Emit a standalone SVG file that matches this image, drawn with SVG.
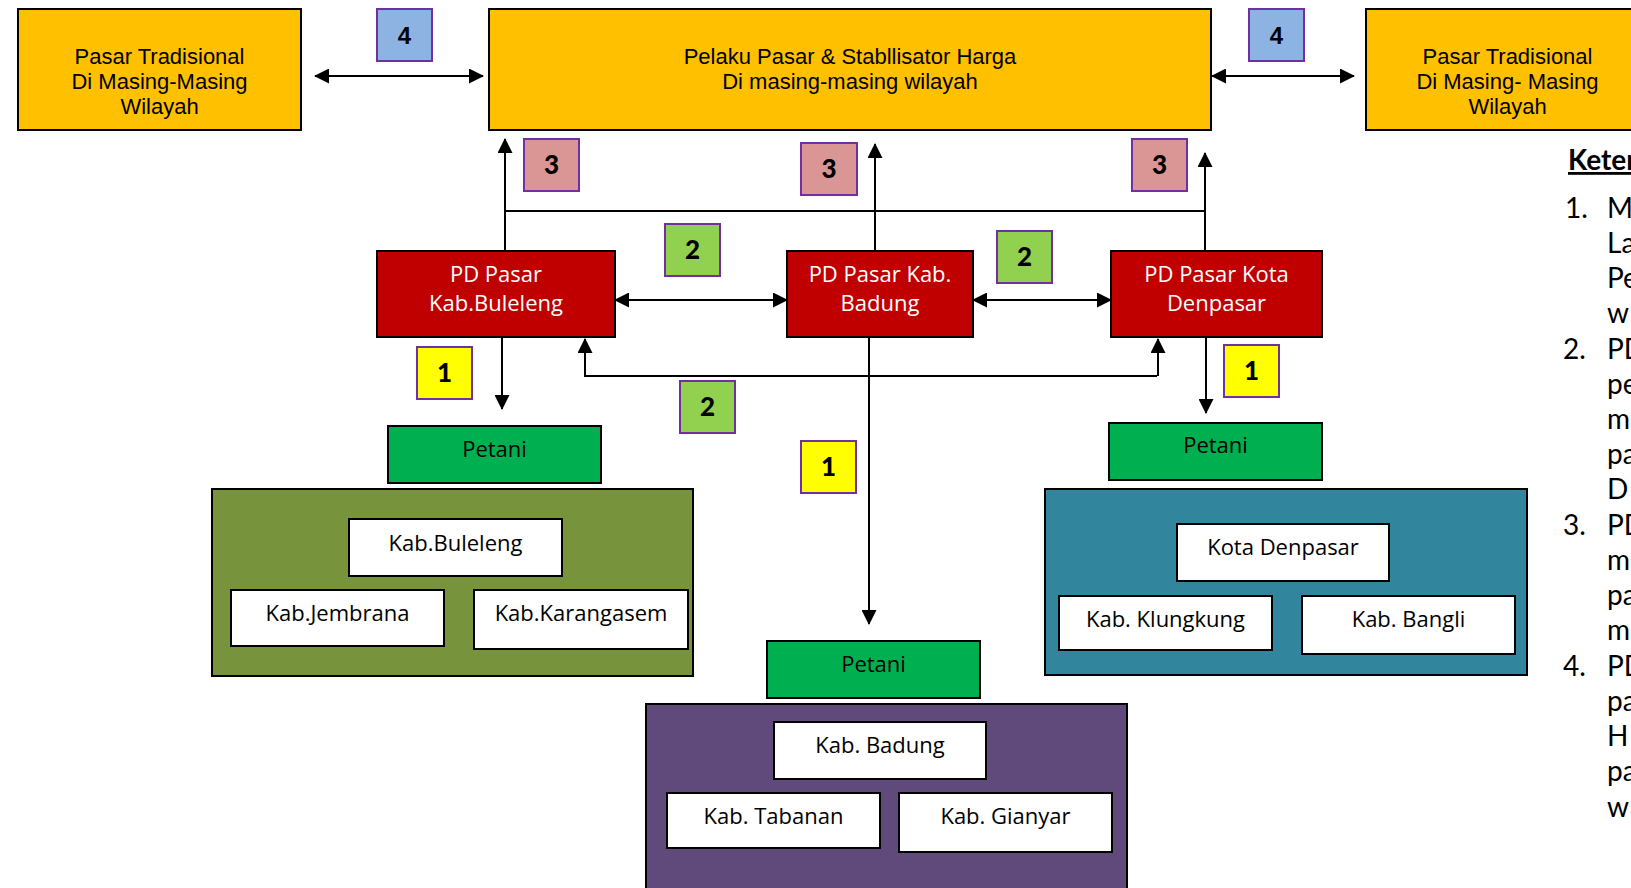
<svg xmlns="http://www.w3.org/2000/svg" width="1631" height="888" viewBox="0 0 1631 888">
  <style>
    .box { stroke: #000; stroke-width: 2; }
    .market { fill: #FFC000; }
    .pd { fill: #C00000; }
    .farmer { fill: #00B050; }
    .white { fill: #FFFFFF; }
    .tag { stroke: #7030A0; stroke-width: 2; }
    .t1 { fill: #FFFF00; }
    .t2 { fill: #92D050; }
    .t3 { fill: #D99694; }
    .t4 { fill: #8DB3E2; }
    .top { font-family: "Liberation Sans", Arial, sans-serif; font-size: 22px; fill: #000; text-anchor: middle; }
    .lbl { font-family: "Open Sans", "Noto Sans", sans-serif; font-size: 22px; fill: #000; text-anchor: middle; }
    .lblw { font-family: "Open Sans", "Noto Sans", sans-serif; font-size: 22px; fill: #FFFFFF; text-anchor: middle; }
    .num { font-family: Lato, "Open Sans", sans-serif; font-size: 26px; font-weight: 900; fill: #000; text-anchor: middle; }
    .num4 { font-family: "Liberation Sans", Arial, sans-serif; font-size: 24px; font-weight: bold; fill: #000; text-anchor: middle; }
    .leg { font-family: Lato, "Open Sans", sans-serif; font-size: 28px; fill: #000; }
    .wire { fill: none; stroke: #000; stroke-width: 2; }
  </style>
  <defs>
    <marker id="arrow" markerUnits="userSpaceOnUse" markerWidth="15" markerHeight="15" refX="14" refY="7.5" orient="auto-start-reverse" viewBox="0 0 15 15">
      <path d="M0,0 L15,7.5 L0,15 Z" fill="#000"/>
    </marker>
  </defs>

  <rect width="1631" height="888" fill="#FFFFFF"/>

  <!-- connectors -->
  <g id="connectors">
    <path class="wire" d="M315,76 H483" marker-start="url(#arrow)" marker-end="url(#arrow)"/>
    <path class="wire" d="M1212,76 H1354" marker-start="url(#arrow)" marker-end="url(#arrow)"/>
    <path class="wire" d="M505,211 H1206"/>
    <path class="wire" d="M505,251 V139" marker-end="url(#arrow)"/>
    <path class="wire" d="M875,251 V144" marker-end="url(#arrow)"/>
    <path class="wire" d="M1205,251 V153" marker-end="url(#arrow)"/>
    <path class="wire" d="M615,300 H787" marker-start="url(#arrow)" marker-end="url(#arrow)"/>
    <path class="wire" d="M973,300 H1111" marker-start="url(#arrow)" marker-end="url(#arrow)"/>
    <path class="wire" d="M502,337 V409" marker-end="url(#arrow)"/>
    <path class="wire" d="M1206,337 V413" marker-end="url(#arrow)"/>
    <path class="wire" d="M869,337 V624" marker-end="url(#arrow)"/>
    <path class="wire" d="M584,376 H1157"/>
    <path class="wire" d="M585,376 V339" marker-end="url(#arrow)"/>
    <path class="wire" d="M1158,376 V339" marker-end="url(#arrow)"/>
  </g>

  <!-- top row: traditional markets and market stabiliser -->
  <g id="pasar-kiri">
    <rect class="box market" x="18" y="9" width="283" height="121"/>
    <text class="top" x="159.5" y="64">Pasar Tradisional</text>
    <text class="top" x="159.5" y="89">Di Masing-Masing</text>
    <text class="top" x="159.5" y="114">Wilayah</text>
  </g>
  <g id="pelaku-pasar">
    <rect class="box market" x="489" y="9" width="722" height="121"/>
    <text class="top" x="850" y="64">Pelaku Pasar &amp; Stabllisator Harga</text>
    <text class="top" x="850" y="89">Di masing-masing wilayah</text>
  </g>
  <g id="pasar-kanan">
    <rect class="box market" x="1366" y="9" width="283" height="121"/>
    <text class="top" x="1507.5" y="64">Pasar Tradisional</text>
    <text class="top" x="1507.5" y="89">Di Masing- Masing</text>
    <text class="top" x="1507.5" y="114">Wilayah</text>
  </g>

  <!-- regional market companies -->
  <g id="pd-buleleng">
    <rect class="box pd" x="377" y="251" width="238" height="86"/>
    <text class="lblw" x="496" y="282">PD Pasar</text>
    <text class="lblw" x="496" y="311">Kab.Buleleng</text>
  </g>
  <g id="pd-badung">
    <rect class="box pd" x="787" y="251" width="186" height="86"/>
    <text class="lblw" x="880" y="282">PD Pasar Kab.</text>
    <text class="lblw" x="880" y="311">Badung</text>
  </g>
  <g id="pd-denpasar">
    <rect class="box pd" x="1111" y="251" width="211" height="86"/>
    <text class="lblw" x="1216.5" y="282">PD Pasar Kota</text>
    <text class="lblw" x="1216.5" y="311">Denpasar</text>
  </g>

  <!-- farmers -->
  <g id="petani-buleleng">
    <rect class="box farmer" x="388" y="426" width="213" height="57"/>
    <text class="lbl" x="494.5" y="457">Petani</text>
  </g>
  <g id="petani-badung">
    <rect class="box farmer" x="767" y="641" width="213" height="57"/>
    <text class="lbl" x="873.5" y="672">Petani</text>
  </g>
  <g id="petani-denpasar">
    <rect class="box farmer" x="1109" y="423" width="213" height="57"/>
    <text class="lbl" x="1215.5" y="453">Petani</text>
  </g>

  <!-- regency groups -->
  <g id="wilayah-buleleng">
    <rect class="box" fill="#77933C" x="212" y="489" width="481" height="187"/>
    <rect class="box white" x="349" y="519" width="213" height="57"/>
    <text class="lbl" x="455.5" y="551">Kab.Buleleng</text>
    <rect class="box white" x="231" y="590" width="213" height="56"/>
    <text class="lbl" x="337.5" y="621">Kab.Jembrana</text>
    <rect class="box white" x="474" y="590" width="214" height="59"/>
    <text class="lbl" x="581" y="621">Kab.Karangasem</text>
  </g>
  <g id="wilayah-denpasar">
    <rect class="box" fill="#31859C" x="1045" y="489" width="482" height="186"/>
    <rect class="box white" x="1177" y="524" width="212" height="57"/>
    <text class="lbl" x="1283" y="555">Kota Denpasar</text>
    <rect class="box white" x="1059" y="596" width="213" height="54"/>
    <text class="lbl" x="1165.5" y="627">Kab. Klungkung</text>
    <rect class="box white" x="1302" y="596" width="213" height="58"/>
    <text class="lbl" x="1408.5" y="627">Kab. Bangli</text>
  </g>
  <g id="wilayah-badung">
    <rect class="box" fill="#604A7B" x="646" y="704" width="481" height="200"/>
    <rect class="box white" x="774" y="722" width="212" height="57"/>
    <text class="lbl" x="880" y="753">Kab. Badung</text>
    <rect class="box white" x="667" y="793" width="213" height="55"/>
    <text class="lbl" x="773.5" y="824">Kab. Tabanan</text>
    <rect class="box white" x="899" y="793" width="213" height="59"/>
    <text class="lbl" x="1005.5" y="824">Kab. Gianyar</text>
  </g>

  <!-- numbered flow tags -->
  <g id="tag-4-kiri">
    <rect class="tag t4" x="377" y="9" width="55" height="52"/>
    <text class="num4" x="404.5" y="44">4</text>
  </g>
  <g id="tag-4-kanan">
    <rect class="tag t4" x="1249" y="9" width="55" height="52"/>
    <text class="num4" x="1276.5" y="44">4</text>
  </g>
  <g id="tag-3-kiri">
    <rect class="tag t3" x="524" y="139" width="55" height="52"/>
    <text class="num" x="551.5" y="174">3</text>
  </g>
  <g id="tag-3-tengah">
    <rect class="tag t3" x="801" y="143" width="56" height="52"/>
    <text class="num" x="829" y="178">3</text>
  </g>
  <g id="tag-3-kanan">
    <rect class="tag t3" x="1132" y="139" width="55" height="52"/>
    <text class="num" x="1159.5" y="174">3</text>
  </g>
  <g id="tag-2-kiri">
    <rect class="tag t2" x="665" y="224" width="55" height="52"/>
    <text class="num" x="692.5" y="259">2</text>
  </g>
  <g id="tag-2-kanan">
    <rect class="tag t2" x="997" y="231" width="55" height="52"/>
    <text class="num" x="1024.5" y="266">2</text>
  </g>
  <g id="tag-2-bawah">
    <rect class="tag t2" x="680" y="381" width="55" height="52"/>
    <text class="num" x="707.5" y="416">2</text>
  </g>
  <g id="tag-1-kiri">
    <rect class="tag t1" x="417" y="347" width="55" height="52"/>
    <text class="num" x="444.5" y="382">1</text>
  </g>
  <g id="tag-1-kanan">
    <rect class="tag t1" x="1224" y="345" width="55" height="52"/>
    <text class="num" x="1251.5" y="380">1</text>
  </g>
  <g id="tag-1-tengah">
    <rect class="tag t1" x="801" y="441" width="55" height="52"/>
    <text class="num" x="828.5" y="476">1</text>
  </g>

  <!-- legend column at the right edge -->
  <g id="keterangan">
    <text class="leg" x="1568" y="170" font-size="25" font-weight="bold" text-decoration="underline">Keter</text>
    <text class="leg" x="1565" y="218">1.</text>
    <text class="leg" x="1607" y="218">M</text>
    <text class="leg" x="1607" y="253">La</text>
    <text class="leg" x="1607" y="288">Pe</text>
    <text class="leg" x="1607" y="323">w</text>
    <text class="leg" x="1563" y="359">2.</text>
    <text class="leg" x="1607" y="359">PD</text>
    <text class="leg" x="1607" y="394">pe</text>
    <text class="leg" x="1607" y="429">m</text>
    <text class="leg" x="1607" y="464">pa</text>
    <text class="leg" x="1607" y="499">D</text>
    <text class="leg" x="1563" y="535">3.</text>
    <text class="leg" x="1607" y="535">PD</text>
    <text class="leg" x="1607" y="570">m</text>
    <text class="leg" x="1607" y="605">pa</text>
    <text class="leg" x="1607" y="640">m</text>
    <text class="leg" x="1563" y="676">4.</text>
    <text class="leg" x="1607" y="676">PD</text>
    <text class="leg" x="1607" y="711">pa</text>
    <text class="leg" x="1607" y="746">H</text>
    <text class="leg" x="1607" y="781">pa</text>
    <text class="leg" x="1607" y="817">w</text>
  </g>
</svg>
